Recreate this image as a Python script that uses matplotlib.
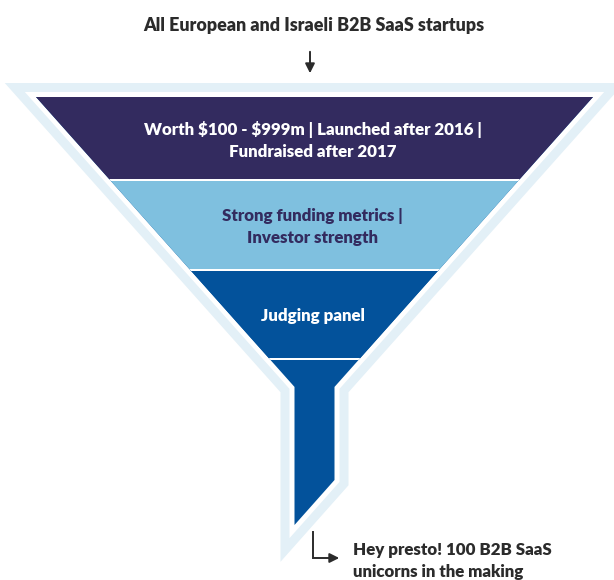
import matplotlib.pyplot as plt
from matplotlib.patches import Polygon, Rectangle

plt.rcParams['font.family'] = ['Lato', 'DejaVu Sans']

# stages of the funnel, top to bottom
stage_labels = [
    "Worth \\$100 - \\$999m | Launched after 2016 |\nFundraised after 2017",
    "Strong funding metrics |\nInvestor strength",
    "Judging panel",
]
stage_colors = ["#332b5f", "#7fc0df", "#03529b"]
stage_text_colors = ["white", "#332b5f", "white"]
top_label = "All European and Israeli B2B SaaS startups"
bottom_label = "Hey presto! 100 B2B SaaS\nunicorns in the making"

border_color = "#e3f0f7"
text_dark = "#2b2b2b"

# geometry in pixel units (y downwards)
cx = 314.5
top_y = 97
top_half = 278.5
slope = 0.8916          # horizontal shrink per pixel of depth
band_heights = [83, 90, 89]
stem_half = 20
stem_right_end = 480
stem_left_end = 525
fs = 12.2

fig = plt.figure(figsize=(6.14, 5.80), dpi=100)
ax = fig.add_axes([0, 0, 1, 1])
ax.set_xlim(0, 614)
ax.set_ylim(580, 0)
ax.axis('off')

neck_y = top_y + (top_half - stem_half) / slope
outline = [
    (cx - top_half, top_y), (cx + top_half, top_y),
    (cx + stem_half, neck_y), (cx + stem_half, stem_right_end),
    (cx - stem_half, stem_left_end), (cx - stem_half, neck_y),
]

# outer light border and white gap
ax.add_patch(Polygon(outline, closed=True, fill=False, edgecolor=border_color,
                     lw=28 * 0.72, joinstyle='miter', zorder=1))
ax.add_patch(Polygon(outline, closed=True, fill=False, edgecolor='white',
                     lw=10 * 0.72, joinstyle='miter', zorder=2))
clip = Polygon(outline, closed=True, facecolor=stage_colors[2],
               edgecolor='none', zorder=3)
ax.add_patch(clip)

y0 = top_y
for i, (col, lab, tc) in enumerate(zip(stage_colors, stage_labels, stage_text_colors)):
    h = band_heights[i]
    r = Rectangle((0, y0), 614, h, facecolor=col, edgecolor='none', zorder=4)
    ax.add_patch(r)
    r.set_clip_path(clip)
    ax.text(cx - 2, y0 + h / 2 + 2, lab, ha='center', va='center', color=tc,
            fontsize=fs, fontweight='heavy', linespacing=1.5, zorder=6)
    # white separator under each band
    sep = Rectangle((0, y0 + h - 1), 614, 2.2, facecolor='white',
                    edgecolor='none', zorder=5)
    ax.add_patch(sep)
    sep.set_clip_path(clip)
    y0 += h

# top label and arrow
ax.text(cx - 1, 26, top_label, ha='center', va='center', color=text_dark,
        fontsize=12.9, fontweight='heavy')
ax.annotate('', xy=(310, 76), xytext=(310, 49),
            arrowprops=dict(arrowstyle='-|>', color=text_dark, lw=1.4,
                            mutation_scale=14))

# bottom elbow arrow and label
ax.plot([313, 313, 330], [532, 558, 558], color=text_dark, lw=1.4,
        solid_joinstyle='miter', zorder=6)
ax.annotate('', xy=(342, 558), xytext=(328, 558),
            arrowprops=dict(arrowstyle='-|>', color=text_dark, lw=1.4,
                            mutation_scale=14))
ax.text(353, 561, bottom_label, ha='left', va='center', color=text_dark,
        fontsize=fs, fontweight='heavy', linespacing=1.45)

fig.savefig('out.png', dpi=100)
